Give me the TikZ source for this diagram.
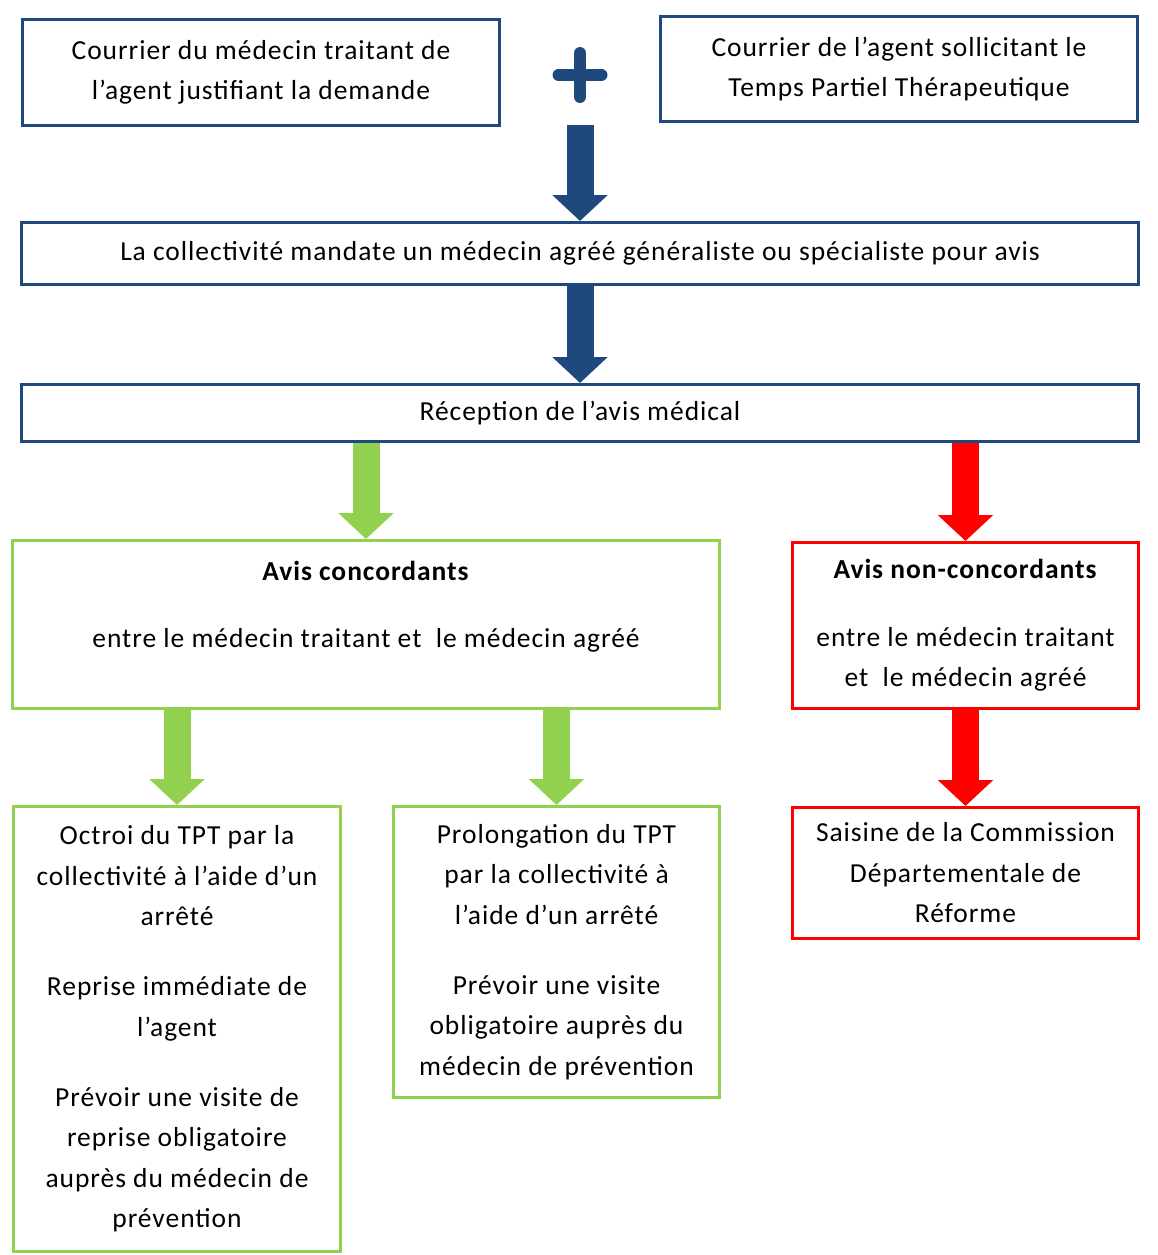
\documentclass[tikz,border=0pt]{standalone}
\usepackage{fontspec}
\setmainfont{Carlito}[LetterSpace=3.5]
\usepackage{tikz}
\usetikzlibrary{arrows.meta,calc}

\definecolor{bleu}{RGB}{31,73,125}
\definecolor{vert}{RGB}{146,208,80}
\definecolor{rouge}{RGB}{255,0,0}

\begin{document}
\begin{tikzpicture}[x=1pt,y=-1pt,
    boite/.style={draw,line width=3pt,rectangle,inner sep=0pt,align=center,
                  font=\fontsize{27.5}{40.5}\selectfont},
    bleue/.style={boite,draw=bleu},
    verte/.style={boite,draw=vert},
    rougeb/.style={boite,draw=rouge},
    fleche/.style={line width=27pt,-{Triangle[width=54pt,length=26pt]}},
    croix/.style={line width=12pt,line cap=round,bleu}]
        \useasboundingbox (0,0) rectangle (1158,1255);

        \node[bleue,minimum width=477,minimum height=106] (lettremed) at (261,72.5)
             {Courrier du médecin traitant de\\l’agent justifiant la demande};
        \node[bleue,minimum width=477,minimum height=105] (lettreagent) at (899,69)
             {Courrier de l’agent sollicitant le\\Temps Partiel Thérapeutique};
        \coordinate (plus) at (580,75);
        \draw[croix] ($(plus)+(-21.5,0)$) -- ($(plus)+(21.5,0)$)
                     ($(plus)+(0,-22)$) -- ($(plus)+(0,22)$);
        \coordinate (depart) at (580,125);

        \node[bleue,minimum width=1117,minimum height=62] (mandat) at (580,253.5)
             {La collectivité mandate un médecin agréé généraliste ou spécialiste pour avis};
        \node[bleue,minimum width=1117,minimum height=57] (reception) at (580,413)
             {Réception de l’avis médical};

        \node[verte,minimum width=707,minimum height=168] (concord) at (366,624.5)
             {\textbf{Avis concordants}\\[26.5pt]entre le médecin traitant et\ \ le médecin agréé\\\mbox{}};
        \node[rougeb,minimum width=346,minimum height=166] (nonconcord) at (965.5,625.5)
             {\textbf{Avis non-concordants}\\[27pt]entre le médecin traitant\\et\ \ le médecin agréé};

        \node[verte,minimum width=327,minimum height=445] (octroi) at (177,1029)
             {Octroi du TPT par la\\collectivité à l’aide d’un\\arrêté\\[29.5pt]Reprise immédiate de\\l’agent\\[29.5pt]Prévoir une visite de\\reprise obligatoire\\auprès du médecin de\\prévention};
        \node[verte,minimum width=326,minimum height=291] (prolong) at (556.5,952)
             {Prolongation du TPT\\par la collectivité à\\l’aide d’un arrêté\\[29.5pt]Prévoir une visite\\obligatoire auprès du\\médecin de prévention};
        \node[rougeb,minimum width=346,minimum height=131] (saisine) at (965.5,873)
             {Saisine de la Commission\\Départementale de\\Réforme};

        \draw[fleche,bleu] (depart) -- (mandat.north);
        \draw[fleche,bleu] (mandat.south) -- (reception.north);
        \draw[fleche,vert] (reception.south -| concord.north) -- (concord.north);
        \draw[fleche,rouge] (reception.south -| nonconcord.north) -- (nonconcord.north);
        \draw[fleche,vert] (concord.south -| octroi.north) -- (octroi.north);
        \draw[fleche,vert] (concord.south -| prolong.north) -- (prolong.north);
        \draw[fleche,rouge] (nonconcord.south) -- (saisine.north);
\end{tikzpicture}
\end{document}
